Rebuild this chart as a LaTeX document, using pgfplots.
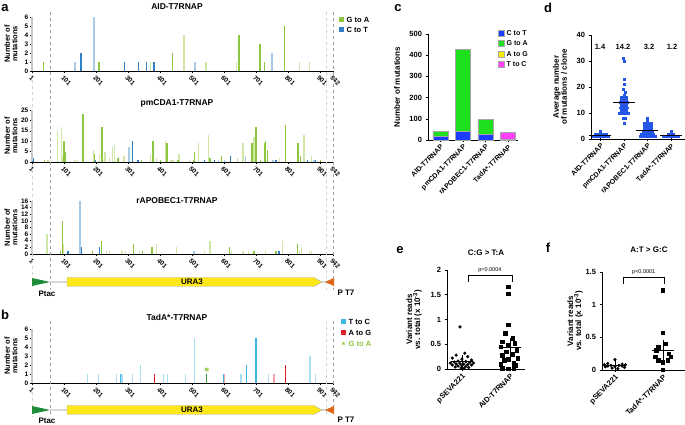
\documentclass[border=0pt]{standalone}
\usepackage{fontspec}
\setmainfont{Liberation Sans}
\usepackage{pgfplots}
\pgfplotsset{compat=1.18}

\definecolor{ga}{HTML}{8DC63F}
\definecolor{galt}{HTML}{CFE6A6}
\definecolor{ct}{HTML}{2F80C4}
\definecolor{ctlt}{HTML}{A6CBEA}
\definecolor{tc}{HTML}{3DB4E6}
\definecolor{tclt}{HTML}{A9DDF2}
\definecolor{ag}{HTML}{E31E26}
\definecolor{aglt}{HTML}{F4A3A6}
\definecolor{cCT}{HTML}{1C3DFF}
\definecolor{cGA}{HTML}{1EE01E}
\definecolor{cAG}{HTML}{F2F000}
\definecolor{cTC}{HTML}{FF40FF}
\definecolor{dblue}{HTML}{2456E8}
\definecolor{ura}{HTML}{FFE81A}
\definecolor{ptac}{HTML}{1E8C3A}
\definecolor{pt7}{HTML}{E0641E}

\newcommand\fs[1]{\bfseries\fontsize{#1}{#1}\selectfont}

\pgfplotsset{
  base/.style={scale only axis, axis x line*=bottom, axis y line*=left,
    axis line style={-, black, line width=0.6pt},
    tick align=outside, major tick length=2.5pt, tick style={black, line width=0.5pt},
    /pgf/number format/assume math mode=true,
    tick label style={font=\fs{7.5}}, label style={font=\fs{8}},
    ylabel style={align=center, at={(axis description cs:0,0.5)}, anchor=center},
    clip=false},
  % mutation spectra (panels a, b)
  spec/.style={base, width=301pt, xmin=1, xmax=942, ymin=0,
    y axis line style={gray!45, line width=1.6pt},
    xtick={1,101,201,301,401,501,601,701,801,901,942},
    xticklabel style={rotate=-45, anchor=north west, inner sep=1pt, font=\fs{6.5}},
    yticklabel style={font=\fs{6.5}, inner sep=1pt},
    ylabel={Number of\\mutations}, ylabel style={yshift=21pt, font=\fs{7.5}},
    every axis plot/.append style={ycomb, line width=1.3pt}},
  cats/.style={base, xtick={1,2,3,4},
    xticklabels={AID-T7RNAP,pmCDA1-T7RNAP,rAPOBEC1-T7RNAP,TadA*-T7RNAP},
    xticklabel style={rotate=45, anchor=north east, inner sep=1pt, font=\fs{7}}},
}

\begin{document}
\begin{tikzpicture}
\path[use as bounding box] (0,0) rectangle (685pt,425pt);

% ---------- a: AID ----------
\begin{axis}[spec, at={(32pt,354pt)}, anchor=south west, height=54pt, ymax=6, ytick={0,...,6}]
\addplot[galt] coordinates {(372,1) (476,4) (545,1) (641,1) (837,1) (868,1)};
\addplot[ga] coordinates {(36,1) (210,1) (440,2) (648,4) (714,3) (727,1) (790,5)};
\addplot[ctlt] coordinates {(135,1) (195,6) (511,1) (751,2)};
\addplot[ct] coordinates {(154,2) (290,1) (333,1) (360,1) (382,1)};
\end{axis}

% ---------- a: pmCDA1 ----------
\begin{axis}[spec, at={(32pt,263pt)}, anchor=south west, height=52pt, ymax=25, ytick={0,5,...,25}]
\addplot[galt] coordinates {(51,1) (80,15) (93,17) (98,3) (135,1) (143,1) (193,6) (213,4) (229,5)
  (244,2) (252,7) (258,8) (289,3) (372,4) (390,2) (419,10) (436,1) (442,1) (461,4) (494,1)
  (522,9) (552,13) (643,2) (661,9) (695,12) (774,2) (851,13) (874,3)};
\addplot[ga] coordinates {(41,1) (101,10) (105,5) (160,23) (196,4) (220,17) (270,2) (343,1)
  (379,10) (402,1) (423,9) (457,1) (507,1) (510,5) (557,2) (593,3) (689,9) (701,17) (715,1)
  (728,9) (730,10) (738,6) (793,18) (833,9) (841,3) (903,1)};
\addplot[ctlt] coordinates {(304,7) (583,1) (603,1) (668,3) (754,1) (883,1)};
\addplot[ct] coordinates {(4,2) (200,1) (315,10) (332,1) (541,1) (572,1) (621,3) (764,1) (862,1) (887,1)};
\end{axis}

% ---------- a: rAPOBEC1 ----------
\begin{axis}[spec, at={(32pt,171pt)}, anchor=south west, height=53pt, ymax=16, ytick={0,2,...,16}]
\addplot[galt] coordinates {(48,6) (100,3) (234,1) (244,1) (282,1) (294,1) (338,1) (391,3) (453,2)
  (541,1) (557,4) (624,1) (661,1) (678,1) (731,1) (785,4) (838,1) (843,2) (869,1) (874,1)};
\addplot[ga] coordinates {(90,1) (96,10) (190,1) (218,4) (318,3) (346,1) (375,2) (378,2) (618,2)
  (695,1) (762,1) (765,1) (830,3)};
\addplot[ctlt] coordinates {(151,16) (507,1)};
\addplot[ct] coordinates {(114,1) (155,2) (213,2) (773,1)};
\end{axis}

% ---------- b: TadA* ----------
\begin{axis}[spec, at={(32pt,42pt)}, anchor=south west, height=54pt, ymax=6, ytick={0,...,6}]
\addplot[tclt] coordinates {(174,1) (209,1) (265,1) (282,1) (316,1) (341,2) (413,1) (424,1) (481,1)
  (508,5) (654,1) (740,1) (870,3) (888,1)};
\addplot[tc] coordinates {(278,1) (599,1) (671,2) (701,5)};
\addplot[aglt] coordinates {(602,1) (758,1)};
\addplot[ag] coordinates {(383,1) (794,2)};
\addplot[ptac!80!ga] coordinates {(547,1)};
\addplot[only marks, mark=asterisk, mark size=2.2pt, ga, line width=0.8pt] coordinates {(547,1.5)};
\end{axis}

% dashed guides
\draw[gray!75, dashed, line width=0.5pt] (50pt,413pt) -- (50pt,135pt) (333pt,413pt) -- (333pt,135pt);
\draw[gray!35, dashed, line width=0.9pt] (32pt,345pt) -- (32pt,135pt) (326pt,413pt) -- (326pt,135pt);
\draw[gray!75, dashed, line width=0.5pt] (50pt,104pt) -- (50pt,8pt) (333pt,104pt) -- (333pt,8pt);
\draw[gray!35, dashed, line width=0.9pt] (32pt,33pt) -- (32pt,8pt) (326pt,104pt) -- (326pt,8pt);

% gene maps
\foreach \Y/\T in {143/131, 15/4} {
  \draw[gray!30, line width=1.6pt] (50pt,\Y pt) -- (326pt,\Y pt);
  \fill[ptac] (32pt,\Y pt-4pt) -- (50pt,\Y pt) -- (32pt,\Y pt+4pt) -- cycle;
  \filldraw[fill=ura, draw=gray!60, line width=0.4pt] (67pt,\Y pt-4.5pt) -- (314pt,\Y pt-4.5pt)
    -- (322pt,\Y pt) -- (314pt,\Y pt+4.5pt) -- (67pt,\Y pt+4.5pt) -- cycle;
  \node[font=\fs{8}] at (192pt,\Y pt) {URA3};
  \fill[pt7] (334pt,\Y pt+4pt) -- (325pt,\Y pt) -- (334pt,\Y pt-4pt) -- cycle;
  \node[font=\fs{8}] at (47pt,\T pt) {Ptac};
  \node[font=\fs{8}] at (346pt,\T pt+1pt) {P T7};
}

% titles and legends a / b
\node[font=\fs{8.5}] at (177pt,418pt) {AID-T7RNAP};
\node[font=\fs{8.5}] at (177pt,322pt) {pmCDA1-T7RNAP};
\node[font=\fs{8.5}] at (177pt,224pt) {rAPOBEC1-T7RNAP};
\node[font=\fs{8.5}] at (177pt,108pt) {TadA*-T7RNAP};
\fill[ga] (339pt,402.5pt) rectangle (344pt,407.5pt);
\node[anchor=west, font=\fs{7.5}, inner sep=0pt] at (346.5pt,405pt) {G to A};
\fill[ct] (339pt,392.5pt) rectangle (344pt,397.5pt);
\node[anchor=west, font=\fs{7.5}, inner sep=0pt] at (346.5pt,395pt) {C to T};
\fill[tc] (341pt,100.5pt) rectangle (346pt,105.5pt);
\node[anchor=west, font=\fs{7.5}, inner sep=0pt] at (348.5pt,103pt) {T to C};
\fill[ag] (341pt,89.5pt) rectangle (346pt,94.5pt);
\node[anchor=west, font=\fs{7.5}, inner sep=0pt] at (348.5pt,92pt) {A to G};
\node[font=\fs{9}, text=ga, inner sep=0pt] at (343.5pt,80pt) {*};
\node[anchor=west, font=\fs{7.5}, inner sep=0pt, text=ga] at (348.5pt,81pt) {G to A};

% ---------- c ----------
\begin{axis}[cats, at={(428pt,285pt)}, anchor=south west, width=90pt, height=106pt,
  xmin=0.45, xmax=4.45, ymin=0, ymax=500, ytick={0,100,...,500},
  ybar stacked, bar width=15pt, ylabel={Number of mutations}, ylabel style={yshift=31pt}]
\addplot[fill=cCT, draw=gray!70] coordinates {(1,18) (2,40) (3,25) (4,0)};
\addplot[fill=cAG, draw=gray!70] coordinates {(1,0) (2,0) (3,0) (4,3)};
\addplot[fill=cGA, draw=gray!70] coordinates {(1,24) (2,388) (3,72) (4,0)};
\addplot[fill=cTC, draw=gray!70] coordinates {(1,0) (2,0) (3,0) (4,35)};
\end{axis}
\foreach \c/\t/\y in {cCT/C to T/392, cGA/G to A/381.5, cAG/A to G/371, cTC/T to C/360.5} {
  \filldraw[fill=\c, draw=gray!70, line width=0.3pt] (498pt,\y pt-3pt) rectangle (504pt,\y pt+3pt);
  \node[anchor=west, font=\fs{7}, inner sep=0pt] at (506.5pt,\y pt) {\t};
}

% ---------- d ----------
\begin{axis}[cats, at={(591pt,286pt)}, anchor=south west, width=94pt, height=104pt,
  xmin=0.6, xmax=4.6, ymin=0, ymax=40, ytick={0,10,...,40},
  ylabel={Average number\\of mutations / clone}, ylabel style={yshift=31pt}]
\addplot[only marks, mark=square*, mark size=0.9pt, dblue] coordinates {
  (0.68,1) (0.72,1) (0.76,1) (0.80,1) (0.84,1) (0.88,1) (0.92,1) (0.96,1) (1.00,1) (1.04,1)
  (1.08,1) (1.12,1) (1.16,1) (1.20,1) (1.24,1) (1.28,1) (1.32,1)
  (0.76,2) (0.82,2) (0.88,2) (0.94,2) (1.00,2) (1.06,2) (1.12,2) (1.18,2) (1.24,2) (1.00,3)
  (1.98,31) (2.02,30) (2.00,23) (2.00,21) (1.96,19) (2.04,18) (2.00,17)
  (1.90,16) (2.00,16) (2.10,16) (1.90,15) (2.00,15) (2.10,15)
  (1.85,14) (1.95,14) (2.05,14) (2.15,14) (1.90,13) (2.00,13) (2.10,13)
  (1.85,12) (1.95,12) (2.05,12) (2.15,12) (1.90,11) (2.00,11) (2.10,11)
  (1.80,10) (1.90,10) (2.00,10) (2.10,10) (2.20,10) (1.95,8) (2.05,8) (2.00,6)
  (3.00,8) (3.00,7) (2.85,6) (2.95,6) (3.05,6) (3.15,6) (2.85,5) (2.95,5) (3.05,5) (3.15,5)
  (2.85,4) (2.95,4) (3.05,4) (3.15,4) (2.80,3) (2.90,3) (3.00,3) (3.10,3) (3.20,3)
  (2.75,2) (2.85,2) (2.95,2) (3.05,2) (3.15,2) (3.25,2)
  (2.68,1) (2.76,1) (2.84,1) (2.92,1) (3.00,1) (3.08,1) (3.16,1) (3.24,1) (3.32,1)
  (3.68,1) (3.72,1) (3.76,1) (3.80,1) (3.84,1) (3.88,1) (3.92,1) (3.96,1) (4.00,1) (4.04,1)
  (4.08,1) (4.12,1) (4.16,1) (4.20,1) (4.24,1) (4.28,1) (4.32,1)
  (3.88,2) (4.00,2) (4.12,2) (4.00,3)};
\addplot[black, only marks, mark=-, mark size=11pt, mark options={line width=0.9pt},
  error bars/.cd, y dir=both, y explicit, error mark=-,
  error mark options={black, mark size=5pt, line width=0.7pt}, error bar style={black, line width=0.7pt}]
  coordinates {(1,1.4) +- (0,0.12) (2,14.2) +- (0,1.0) (3,3.2) +- (0,0.3) (4,1.2) +- (0,0.12)};
\end{axis}
\foreach \x/\t in {600/1.4, 623/14.2, 649/3.2, 672/1.2}
  \node[font=\fs{7.5}] at (\x pt,378pt) {\t};

% ---------- e ----------
\begin{axis}[base, at={(447pt,56pt)}, anchor=south west, width=78pt, height=99pt,
  xmin=0.69, xmax=2.31, ymin=0, ymax=2, ytick={0,0.5,1,1.5,2}, xtick={1,2},
  xticklabels={pSEVA221,AID-T7RNAP}, xticklabel style={rotate=45, anchor=north east, inner sep=1pt, font=\fs{7.5}},
  ylabel={Variant reads\\vs. total (x 10\textsuperscript{-3})}, ylabel style={yshift=33pt}]
\addplot[only marks, mark=*, mark size=1.4pt, black] coordinates {
  (0.96,0.85) (1.06,0.32) (0.88,0.28) (1.12,0.25) (0.80,0.22) (1.00,0.20) (1.20,0.18)
  (0.92,0.16) (1.08,0.15) (0.84,0.14) (1.16,0.13) (0.76,0.12) (1.24,0.12) (0.96,0.11)
  (1.04,0.10) (0.88,0.10) (1.12,0.09) (0.80,0.08) (1.20,0.08) (1.00,0.07) (0.92,0.06)
  (1.08,0.05) (0.86,0.04) (1.14,0.03) (0.98,0.02) (1.04,0.01)};
\addplot[only marks, mark=square*, mark size=1.7pt, black] coordinates {
  (1.96,1.66) (1.96,1.52) (1.96,0.90) (1.90,0.72) (2.06,0.62) (1.84,0.55) (2.10,0.52)
  (1.96,0.48) (1.80,0.45) (2.14,0.38) (1.92,0.35) (2.04,0.30) (1.84,0.28) (2.16,0.22)
  (1.96,0.20) (1.88,0.18) (2.08,0.12) (1.80,0.10) (2.12,0.08) (1.84,0.02) (2.08,0.02) (1.96,0.00)};
\addplot[black, only marks, mark=-, mark size=11pt, mark options={line width=1pt},
  error bars/.cd, y dir=both, y explicit, error mark=-,
  error mark options={black, mark size=5pt, line width=0.8pt}, error bar style={black, line width=0.8pt}]
  coordinates {(1,0.15) +- (0,0.035) (2,0.44) +- (0,0.09)};
\draw[black, line width=0.5pt] (axis cs:1.125,1.76) -- (axis cs:1.125,1.90) -- (axis cs:2.04,1.90) -- (axis cs:2.04,1.76);
\node[font=\fontsize{5.5}{6}\selectfont, anchor=south, inner sep=1pt] at (axis cs:1.58,1.92) {p=0.0004};
\end{axis}

% ---------- f ----------
\begin{axis}[base, at={(602pt,55pt)}, anchor=south west, width=83pt, height=98pt,
  xmin=0.73, xmax=2.46, ymin=0, ymax=1.5, ytick={0,0.5,1,1.5}, xtick={1,2},
  xticklabels={pSEVA221,TadA*-T7RNAP}, xticklabel style={rotate=45, anchor=north east, inner sep=1pt, font=\fs{7.5}},
  ylabel={Variant reads\\vs. total (x 10\textsuperscript{-3})}, ylabel style={yshift=27pt}]
\addplot[only marks, mark=*, mark size=1.4pt, black] coordinates {
  (1.00,0.16) (0.85,0.10) (1.15,0.09) (0.78,0.08) (1.22,0.08) (0.92,0.07) (1.08,0.07)
  (0.85,0.06) (1.15,0.06) (1.00,0.05) (0.80,0.05) (1.20,0.04) (0.94,0.03) (1.06,0.02)};
\addplot[only marks, mark=square*, mark size=1.7pt, black] coordinates {
  (2.00,1.22) (2.00,0.57) (2.06,0.40) (1.90,0.35) (1.86,0.30) (2.12,0.25) (1.84,0.20)
  (2.16,0.20) (1.90,0.15) (2.10,0.15) (2.00,0.12) (2.00,0.00)};
\addplot[black, only marks, mark=-, mark size=11pt, mark options={line width=1pt},
  error bars/.cd, y dir=both, y explicit, error mark=-,
  error mark options={black, mark size=5pt, line width=0.8pt}, error bar style={black, line width=0.8pt}]
  coordinates {(1,0.07) +- (0,0.012) (2,0.30) +- (0,0.09)};
\draw[black, line width=0.5pt] (axis cs:1.17,1.32) -- (axis cs:1.17,1.42) -- (axis cs:2.02,1.42) -- (axis cs:2.02,1.32);
\node[font=\fontsize{5.5}{6}\selectfont, anchor=south, inner sep=1pt] at (axis cs:1.6,1.44) {p<0.0001};
\end{axis}

% e / f titles
\node[font=\fs{8}] at (486pt,172pt) {C:G > T:A};
\node[font=\fs{8}] at (649pt,175pt) {A:T > G:C};

% panel letters
\node[font=\fs{13}] at (5pt,417pt) {a};
\node[font=\fs{13}] at (5pt,110pt) {b};
\node[font=\fs{13}] at (398pt,417pt) {c};
\node[font=\fs{13}] at (548pt,417pt) {d};
\node[font=\fs{13}] at (400pt,175pt) {e};
\node[font=\fs{13}] at (548pt,177pt) {f};
\end{tikzpicture}
\end{document}
